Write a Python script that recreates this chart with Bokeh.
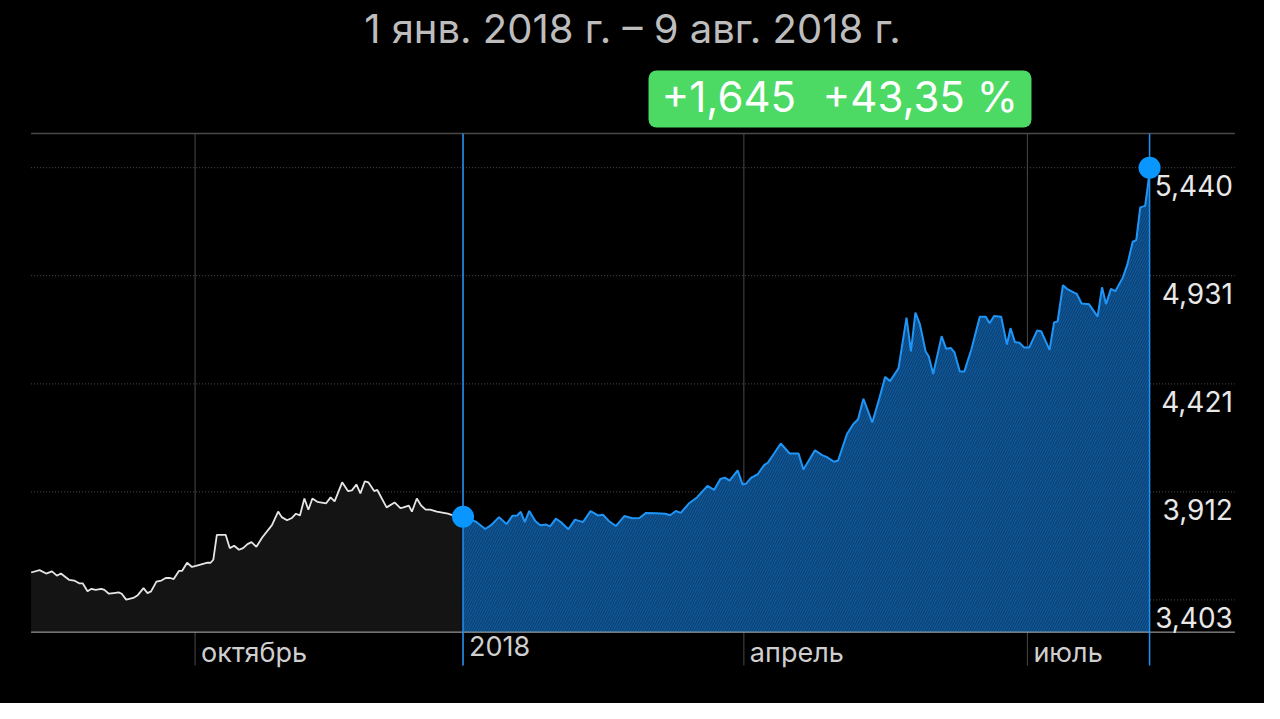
import re
from bokeh.plotting import figure
from bokeh.models import Range1d
from bokeh.core.properties import value
from bokeh.embed import file_html
from bokeh.resources import INLINE

title_text = "1 янв. 2018 г. – 9 авг. 2018 г."
change_abs = "+1,645"
change_pct = "+43,35 %"

# trading-session index (x) and price (y) before the selected period
days_2017 = [0, 1.9, 3.4, 4.7, 5.8, 6.7, 8.6, 9.7, 10.8, 11.6,
             12.7, 13.6, 14.5, 15.8, 16.5, 17.5, 18.6, 19.7, 20.4, 21.4,
             23.0, 24.0, 25.3, 26.2, 27.0, 28.2, 29.3, 30.3, 31.3, 32.1,
             33.3, 34.0, 35.1, 36.2, 37.1, 39.7, 40.4, 41.0, 41.8, 43.8,
             44.7, 45.7, 46.8, 47.7, 48.7, 49.6, 50.7, 52.0, 54.2, 55.6,
             56.4, 57.6, 58.7, 59.6, 60.5, 61.5, 62.4, 63.3, 64.4, 66.4,
             67.4, 68.3, 70.0, 71.3, 72.2, 73.2, 74.1, 75.1, 75.9, 77.2,
             77.9, 80.0, 81.8, 83.1, 83.8, 85.0, 85.7, 86.8, 87.8, 88.8,
             89.8, 91.3, 93.8, 94.6, 97.2]
values_2017 = [3.532, 3.543, 3.527, 3.537, 3.517, 3.527, 3.497, 3.494, 3.481, 3.481,
               3.444, 3.455, 3.450, 3.455, 3.450, 3.432, 3.435, 3.438, 3.432, 3.404,
               3.412, 3.425, 3.458, 3.435, 3.443, 3.489, 3.494, 3.506, 3.506, 3.501,
               3.540, 3.540, 3.578, 3.558, 3.563, 3.578, 3.578, 3.592, 3.709, 3.709,
               3.647, 3.658, 3.639, 3.647, 3.666, 3.675, 3.653, 3.697, 3.755, 3.819,
               3.793, 3.778, 3.789, 3.809, 3.801, 3.881, 3.828, 3.881, 3.865, 3.858,
               3.886, 3.867, 3.957, 3.916, 3.919, 3.947, 3.905, 3.962, 3.957, 3.916,
               3.921, 3.839, 3.862, 3.835, 3.839, 3.847, 3.819, 3.881, 3.847, 3.828,
               3.828, 3.819, 3.809, 3.804, 3.795]

# selected period: 1 Jan 2018 - 9 Aug 2018
days_2018 = [97.2, 99.0, 100.2, 102.2, 103.5, 105.3, 107.0, 108.3, 109.4, 110.2,
             111.1, 112.1, 113.5, 114.6, 115.9, 116.8, 118.1, 119.2, 120.9, 122.4,
             123.5, 124.2, 125.9, 127.6, 128.7, 130.0, 131.6, 133.5, 135.3, 136.9,
             138.4, 140.7, 142.7, 143.8, 145.1, 146.2, 148.0, 149.9, 152.2, 153.7,
             155.1, 156.1, 157.2, 159.0, 160.1, 160.9, 162.0, 163.5, 165.0, 165.7,
             167.2, 168.7, 170.7, 172.7, 173.8, 176.4, 178.0, 179.0, 180.7, 181.6,
             183.6, 185.0, 186.1, 187.3, 189.3, 190.9, 192.2, 193.3, 195.2, 197.0,
             198.0, 199.0, 200.0, 201.3, 202.0, 203.0, 204.9, 205.9, 207.0, 207.8,
             209.0, 210.0, 211.6, 213.5, 214.8, 215.7, 216.7, 218.3, 219.6, 220.4,
             221.4, 222.4, 223.5, 224.6, 226.4, 227.3, 229.2, 230.2, 231.0, 232.2,
             233.1, 234.8, 235.3, 236.4, 238.1, 240.0, 241.0, 241.9, 243.0, 244.0,
             245.7, 246.7, 247.9, 248.7, 249.6, 250.7, 251.4, 251.7]
values_2018 = [3.795, 3.781, 3.770, 3.737, 3.755, 3.793, 3.760, 3.799, 3.801, 3.818,
               3.769, 3.822, 3.774, 3.755, 3.758, 3.749, 3.786, 3.770, 3.736, 3.781,
               3.774, 3.770, 3.821, 3.801, 3.804, 3.775, 3.751, 3.798, 3.788, 3.789,
               3.813, 3.811, 3.809, 3.802, 3.822, 3.813, 3.857, 3.887, 3.940, 3.921,
               3.973, 3.979, 3.965, 4.013, 3.947, 3.951, 3.978, 3.995, 4.039, 4.047,
               4.093, 4.140, 4.093, 4.093, 4.017, 4.108, 4.085, 4.077, 4.054, 4.060,
               4.185, 4.231, 4.254, 4.351, 4.239, 4.354, 4.454, 4.434, 4.495, 4.733,
               4.574, 4.757, 4.703, 4.574, 4.551, 4.468, 4.646, 4.587, 4.590, 4.569,
               4.479, 4.479, 4.584, 4.738, 4.738, 4.707, 4.741, 4.738, 4.606, 4.684,
               4.618, 4.615, 4.592, 4.592, 4.673, 4.669, 4.581, 4.711, 4.715, 4.886,
               4.869, 4.850, 4.846, 4.800, 4.796, 4.738, 4.876, 4.797, 4.869, 4.858,
               4.923, 4.984, 5.091, 5.099, 5.253, 5.260, 5.368, 5.440]

month_ticks = [36.9, 97.2, 160.4, 224.2]
month_labels = ["октябрь", "2018", "апрель", "июль"]
price_ticks = [3.403, 3.912, 4.421, 4.931, 5.440]
price_labels = ["3,403", "3,912", "4,421", "4,931", "5,440"]

FONT = "Inter"
W, H = 1264, 703

# whole canvas is the plotting frame; the chart occupies part of it
VIEW_X = (-6.886, 277.56)
VIEW_Y = (2.9145, 6.2281)
CHART_X0, CHART_X1 = 0.0, 270.9       # left / right end of the chart lines
CHART_TOP = 5.6013                     # top border line
AXIS_Y = 3.2509                        # bottom axis line
GRID_BOTTOM = 3.0938                   # vertical lines run down past the axis

p = figure(width=W, height=H, x_range=Range1d(*VIEW_X), y_range=Range1d(*VIEW_Y),
           output_backend="svg", toolbar_location=None,
           x_axis_location=None, y_axis_location=None, min_border=0,
           background_fill_color="#000000", border_fill_color="#000000",
           outline_line_color=None)
p.styles = {"background-color": "#000000"}
p.xgrid.visible = False
p.ygrid.visible = False

# ---- grid lines drawn from the tick arrays ----
p.segment(x0=month_ticks, x1=month_ticks,
          y0=[CHART_TOP] * len(month_ticks), y1=[GRID_BOTTOM] * len(month_ticks),
          line_color="#4a4a4a", line_width=1)
p.segment(x0=[CHART_X0] * len(price_ticks), x1=[CHART_X1] * len(price_ticks),
          y0=price_ticks, y1=price_ticks,
          line_color="#4d4d4d", line_width=1, line_dash="1 2")
p.segment(x0=[CHART_X0], x1=[CHART_X1], y0=[CHART_TOP], y1=[CHART_TOP],
          line_color="#4a4a4a", line_width=1.5)

# ---- areas and lines ----
p.varea(x=days_2017, y1=AXIS_Y, y2=values_2017, fill_color="#141414")
p.line(days_2017, values_2017, line_color="#e6e6e6", line_width=1.8)
p.varea(x=days_2018, y1=AXIS_Y, y2=values_2018, fill_color="#0f5798",
        hatch_pattern="/", hatch_color="#0a3c6b", hatch_scale=5, hatch_weight=1)
p.line(days_2018, values_2018, line_color="#1f95f7", line_width=2)

# bottom axis line and the selection boundaries
p.segment(x0=[CHART_X0], x1=[CHART_X1], y0=[AXIS_Y], y1=[AXIS_Y],
          line_color="#b5b5b5", line_width=1)
p.segment(x0=[days_2018[0], days_2018[-1]], x1=[days_2018[0], days_2018[-1]],
          y0=[CHART_TOP, CHART_TOP], y1=[GRID_BOTTOM, GRID_BOTTOM],
          line_color="#1f8ff5", line_width=1.5)

p.scatter([days_2018[0], days_2018[-1]], [values_2018[0], values_2018[-1]],
          size=22, fill_color="#0a96ff", line_color=None)

# ---- price labels at the right, just below each grid line ----
p.text(x=[CHART_X1] * len(price_ticks), y=price_ticks, text=price_labels,
       text_align="right", text_baseline="top", x_offset=-2, y_offset=7,
       text_color="#e8e8e8", text_font=value(FONT), text_font_size="28px")

# ---- month labels, right of each vertical line, under the axis line ----
p.text(x=month_ticks, y=[AXIS_Y] * len(month_ticks), text=month_labels,
       text_align="left", text_baseline="top", x_offset=6, y_offset=4,
       text_color="#cfcfcf", text_font=value(FONT), text_font_size="27px")

# ---- title and change badge ----
p.text(x=[135.34], y=[6.0961], text=[title_text], text_align="center",
       text_baseline="alphabetic", text_font=value(FONT), text_font_size="40px",
       text_color="#bdbdbd")
p.quad(left=[138.94], right=[225.12], bottom=[5.6295], top=[5.8981], border_radius=8,
       fill_color="#4cd964", line_color=None)
p.text(x=[141.86, 178.1], y=[5.7756, 5.7756], text=[change_abs, change_pct],
       text_align="left", text_baseline="alphabetic", text_font=value(FONT),
       text_font_size="42px", text_color="#ffffff")

html = file_html(p, INLINE)
html = re.sub(r"<body([^>]*)>", r'<body\1 style="background-color:#000000;">', html, count=1)
open("out.html", "w").write(html)
